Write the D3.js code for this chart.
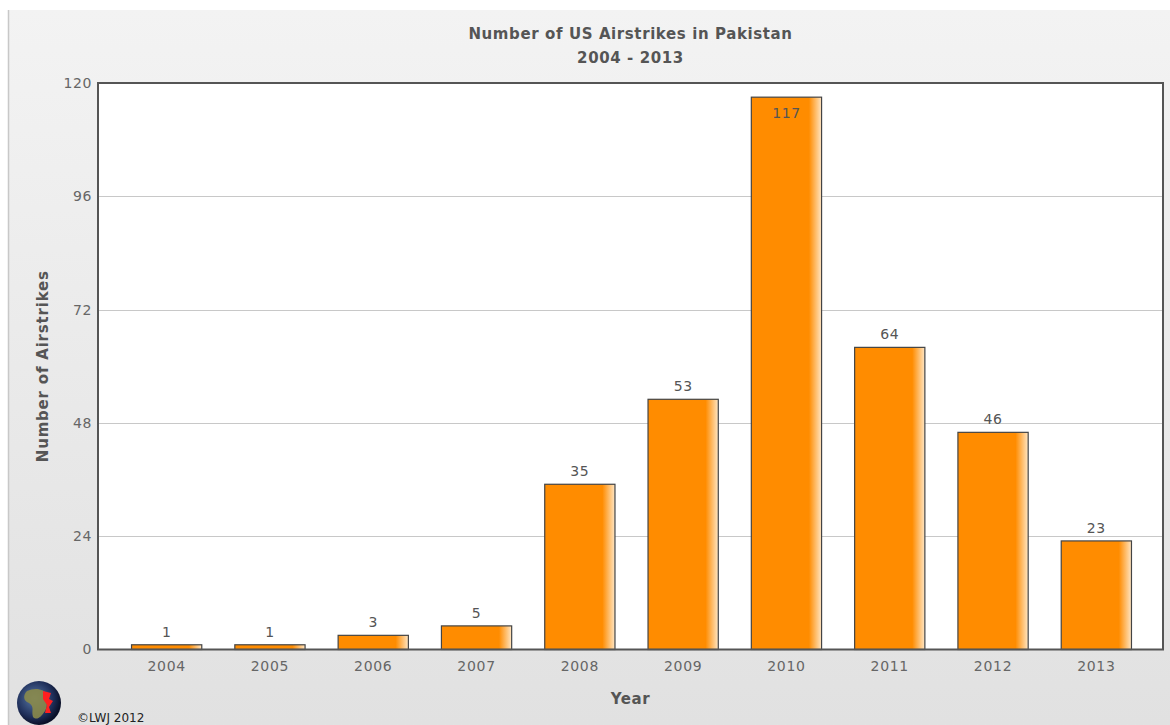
<!DOCTYPE html>
<html><head><meta charset="utf-8">
<script src="https://cdn.jsdelivr.net/npm/d3@7"></script>
<style>html,body{margin:0;padding:0;background:#fff;}svg{display:block;}</style>
</head><body>
<script>
const years = ["2004","2005","2006","2007","2008","2009","2010","2011","2012","2013"];
const strikes = [1,1,3,5,35,53,117,64,46,23];
const yTicks = [0,24,48,72,96,120];
const titleLines = ["Number of US Airstrikes in Pakistan","2004 - 2013"];

const W=1170,H=725;
const FONT="DejaVu Sans, Verdana, sans-serif";
const svg=d3.select("body").append("svg").attr("width",W).attr("height",H);
const defs=svg.append("defs");
const bg=defs.append("linearGradient").attr("id","bg").attr("x1",0).attr("y1",0).attr("x2",0).attr("y2",1);
bg.append("stop").attr("offset","0%").attr("stop-color","#f3f3f3");
bg.append("stop").attr("offset","100%").attr("stop-color","#e1e1e1");
const bar=defs.append("linearGradient").attr("id","bar").attr("x1",0).attr("y1",0).attr("x2",1).attr("y2",0);
bar.append("stop").attr("offset","0%").attr("stop-color","#ff8c00");
bar.append("stop").attr("offset","82%").attr("stop-color","#ff8c00");
bar.append("stop").attr("offset","100%").attr("stop-color","#ffe6c4");
const globe=defs.append("radialGradient").attr("id","globe").attr("cx","40%").attr("cy","40%").attr("r","60%");
globe.append("stop").attr("offset","0%").attr("stop-color","#5a7aa8");
globe.append("stop").attr("offset","70%").attr("stop-color","#1f2f5a");
globe.append("stop").attr("offset","100%").attr("stop-color","#0a1028");

svg.append("rect").attr("x",8).attr("y",10).attr("width",W-8).attr("height",H-10).attr("fill","url(#bg)");
svg.append("line").attr("x1",8.5).attr("x2",8.5).attr("y1",10).attr("y2",H).attr("stroke","#c8c8c8").attr("stroke-width",1.5);

const L=98,R=1163,T=83,B=649.5;
const x=d3.scaleBand().domain(years).range([115,1148]).paddingInner(0.32).paddingOuter(0.16);
const y=d3.scaleLinear().domain([0,120]).range([B,T]);

svg.append("rect").attr("x",L).attr("y",T).attr("width",R-L).attr("height",B-T).attr("fill","#fff");

// gridlines
svg.append("g").selectAll("line").data(yTicks.filter(d=>d>0&&d<120)).join("line")
  .attr("x1",L).attr("x2",R).attr("y1",d=>Math.round(y(d))+0.5).attr("y2",d=>Math.round(y(d))+0.5)
  .attr("stroke","#c8c8c8").attr("stroke-width",1);

// y axis labels
const yAxis=d3.axisLeft(y).tickValues(yTicks).tickSize(0).tickPadding(6);
const gy=svg.append("g").attr("transform",`translate(${L},0)`).call(yAxis);
gy.select(".domain").remove();
gy.selectAll("text").attr("font-family",FONT).attr("font-size",14).attr("letter-spacing",0.6).attr("fill","#666");

// x axis labels
const xAxis=d3.axisBottom(x).tickSize(0).tickPadding(12);
const gx=svg.append("g").attr("transform",`translate(0,${B})`).call(xAxis);
gx.select(".domain").remove();
gx.selectAll("text").attr("font-family",FONT).attr("font-size",14).attr("letter-spacing",0.7).attr("fill","#666");

// bars
svg.append("g").selectAll("rect").data(strikes).join("rect")
  .attr("x",(d,i)=>x(years[i])).attr("width",x.bandwidth())
  .attr("y",d=>y(d)).attr("height",d=>B-y(d))
  .attr("fill","url(#bar)").attr("stroke","#444").attr("stroke-width",1.2);

// value labels
svg.append("g").selectAll("text").data(strikes).join("text")
  .attr("x",(d,i)=>x(years[i])+x.bandwidth()/2)
  .attr("y",d=> d>110 ? y(d)+21 : y(d)-8)
  .attr("text-anchor","middle").attr("font-family",FONT).attr("letter-spacing",0.6)
  .attr("font-size",14).attr("fill","#555").text(d=>d);

// plot border
svg.append("rect").attr("x",L).attr("y",T).attr("width",R-L).attr("height",B-T)
  .attr("fill","none").attr("stroke","#555").attr("stroke-width",2);

// title
svg.append("g").selectAll("text").data(titleLines).join("text")
  .attr("x",(L+R)/2).attr("y",(d,i)=>39+i*24).attr("text-anchor","middle")
  .attr("font-family",FONT).attr("font-weight","bold").attr("letter-spacing",0.6)
  .attr("font-size",15).attr("fill","#555").text(d=>d);

// axis titles
svg.append("text").attr("x",(L+R)/2).attr("y",704).attr("text-anchor","middle")
  .attr("font-family",FONT).attr("font-weight","bold").attr("letter-spacing",0.6)
  .attr("font-size",15).attr("fill","#555").text("Year");
svg.append("text").attr("transform",`translate(48,${(T+B)/2}) rotate(-90)`).attr("text-anchor","middle")
  .attr("font-family",FONT).attr("font-weight","bold").attr("letter-spacing",0.8)
  .attr("font-size",15).attr("fill","#555").text("Number of Airstrikes");

// logo
const lg=svg.append("g").attr("transform","translate(39,703)");
lg.append("circle").attr("r",22).attr("fill","url(#globe)");
lg.append("path").attr("d","M-12,-12 C-4,-16 6,-14 8,-8 C6,-2 10,2 6,8 C2,14 -2,18 -6,14 C-8,8 -4,4 -10,0 C-16,-2 -16,-8 -12,-12 Z").attr("fill","#8a8a4a").attr("opacity",0.9);
lg.append("path").attr("d","M4,-12 L12,-10 L10,-4 L14,-2 L10,4 L12,10 L6,10 L8,2 L4,-4 Z").attr("fill","#ff2020");
svg.append("text").attr("x",77).attr("y",722).attr("font-family",FONT)
  .attr("font-size",12).attr("fill","#222").text("©LWJ 2012");
</script>
</body></html>
